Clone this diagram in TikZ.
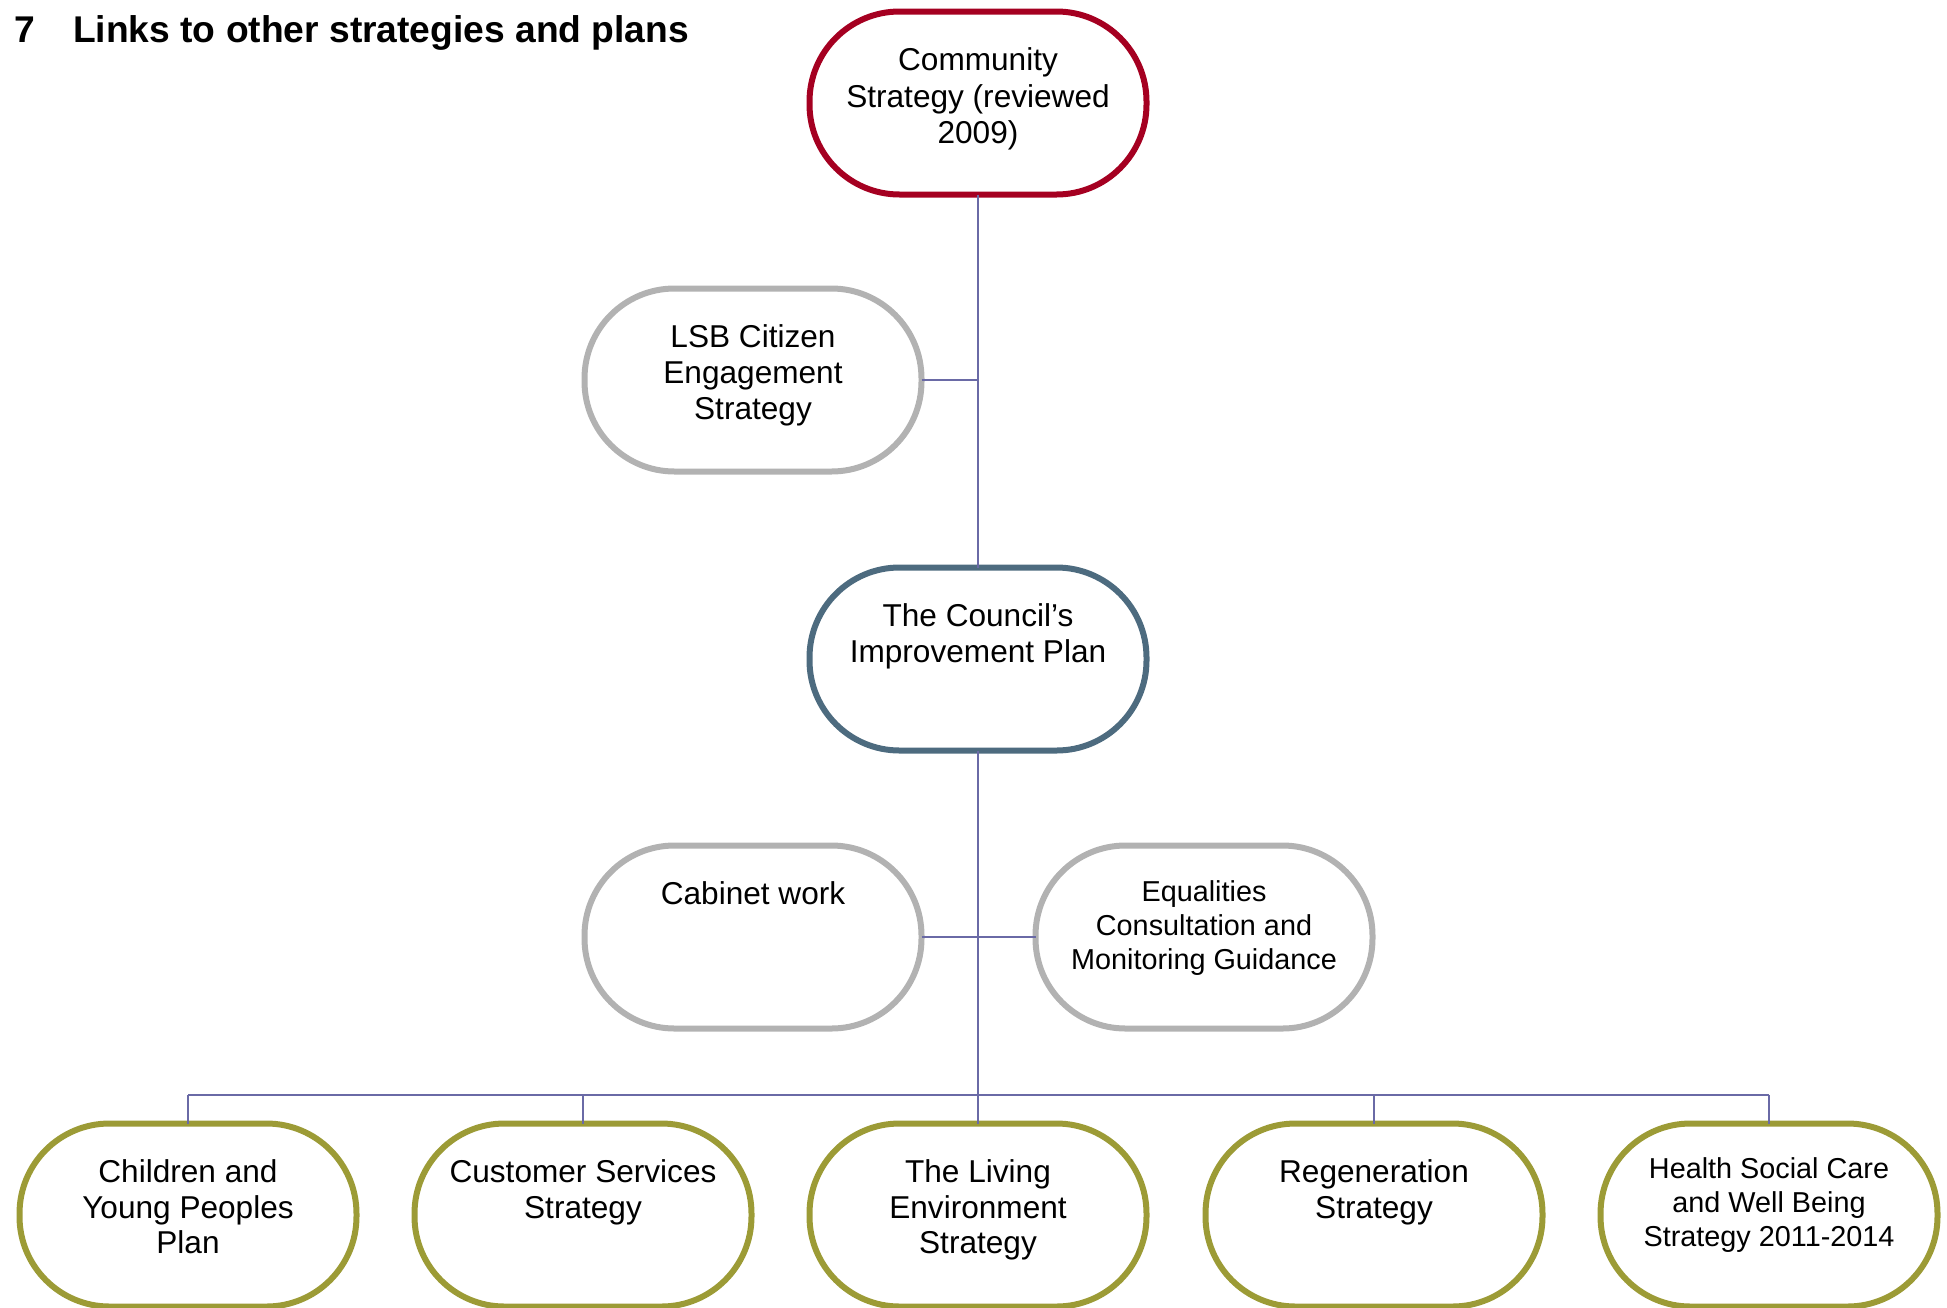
\documentclass[tikz,border=0pt]{standalone}
\usepackage{fontspec}
\setmainfont{Liberation Sans}
\usetikzlibrary{calc}
\definecolor{cred}{HTML}{A50021}
\definecolor{cslate}{HTML}{4D6B7F}
\definecolor{cgray}{HTML}{B2B2B2}
\definecolor{colive}{HTML}{9C9B36}
\definecolor{cline}{HTML}{6A6AA6}
\newcommand\btext[3]{\vbox to 91.5pt{\hsize=166pt\baselineskip=#2\lineskiplimit=-\maxdimen\lineskip=0pt\vskip\dimexpr#1-#2\relax\hbox{}#3\vss}}
\newcommand\bline[1]{\hbox to\hsize{\hss#1\hss}}
\begin{document}
\begin{tikzpicture}[x=0.5pt,y=-0.5pt,
  pill/.style={rectangle, rounded corners=45pt, minimum width=168.5pt, minimum height=91.5pt,
    inner sep=0pt, outer sep=0pt, line width=3pt, fill=white, draw=#1,
    font=\fontsize{15.8pt}{18pt}\selectfont},
  smalltxt/.style={font=\fontsize{14.4pt}{17pt}\selectfont},
  conn/.style={draw=cline, line width=1pt}]
\useasboundingbox (0,0) rectangle (1947,1307);
\node[anchor=base west, inner sep=0pt, font=\bfseries\fontsize{18.6pt}{22pt}\selectfont] (title) at (14,42) {7\hspace{19pt}Links to other strategies and plans};
\node[pill=cred] (comm) at (978,103) {\btext{29.5pt}{18.3pt}{\bline{Community}\bline{Strategy (reviewed}\bline{2009)}}};
\node[pill=cgray] (lsb) at (753,380) {\btext{29.5pt}{18pt}{\bline{LSB Citizen}\bline{Engagement}\bline{Strategy}}};
\node[pill=cslate] (council) at (978,659) {\btext{29.5pt}{18pt}{\bline{The Council’s}\bline{Improvement Plan}}};
\node[pill=cgray] (cab) at (753,937) {\btext{29.5pt}{18pt}{\bline{Cabinet work}}};
\node[pill=cgray, smalltxt] (equal) at (1204,937) {\btext{28pt}{17pt}{\bline{Equalities}\bline{Consultation and}\bline{Monitoring Guidance}}};
\node[pill=colive] (b1) at (188,1215) {\btext{29.5pt}{17.8pt}{\bline{Children and}\bline{Young Peoples}\bline{Plan}}};
\node[pill=colive] (b2) at (583,1215) {\btext{29.5pt}{17.8pt}{\bline{Customer Services}\bline{Strategy}}};
\node[pill=colive] (b3) at (978,1215) {\btext{29.5pt}{17.8pt}{\bline{The Living}\bline{Environment}\bline{Strategy}}};
\node[pill=colive] (b4) at (1374,1215) {\btext{29.5pt}{17.8pt}{\bline{Regeneration}\bline{Strategy}}};
\node[pill=colive, smalltxt] (b5) at (1769,1215) {\btext{27.5pt}{17pt}{\bline{Health Social Care}\bline{and Well Being}\bline{Strategy 2011-2014}}};
\coordinate (bus) at (978,1095);
\draw[conn] (comm.south) -- (council.north);
\draw[conn] (lsb.east) -- (lsb.east -| comm.south);
\draw[conn] (council.south) -- (bus);
\draw[conn] (cab.east) -- (equal.west);
\draw[conn] (b1.north |- bus) -- (b5.north |- bus);
\foreach \b in {b1,b2,b3,b4,b5} \draw[conn] (\b.north |- bus) -- (\b.north);
\end{tikzpicture}
\end{document}
